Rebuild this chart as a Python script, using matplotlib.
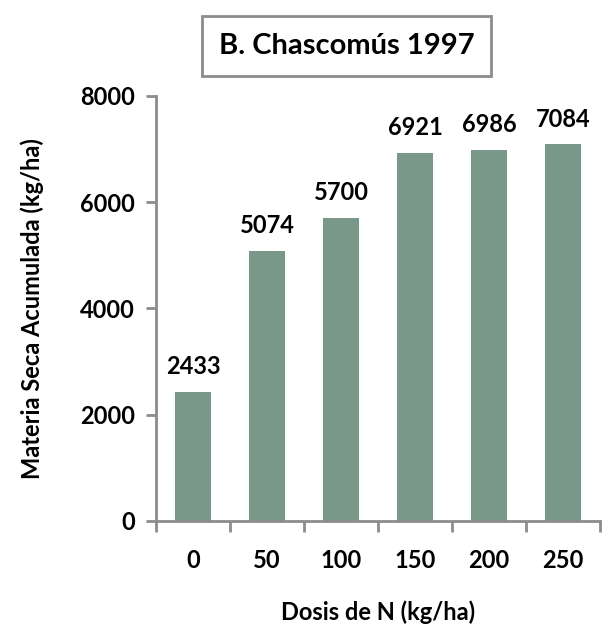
import numpy as np
import matplotlib
matplotlib.use('Agg')
import matplotlib.pyplot as plt
from matplotlib.ticker import FixedLocator

# datos
dosis = ['0', '50', '100', '150', '200', '250']
materia_seca = [2433, 5074, 5700, 6921, 6986, 7084]
yticks = [0, 2000, 4000, 6000, 8000]

plt.rcParams['font.family'] = ['Lato', 'DejaVu Sans']
plt.rcParams['font.weight'] = 'bold'

gris = '#8c8c8c'
verde = '#799889'

fig = plt.figure(figsize=(6.02, 6.26), dpi=100)
ax = fig.add_axes([0.259, 0.168, 0.738, 0.679])

x = np.arange(len(dosis))
ax.bar(x, materia_seca, width=0.48, color=verde)

for xi, v in zip(x, materia_seca):
    ax.annotate(str(v), (xi, v), xytext=(0, 10), textcoords='offset points',
                ha='center', va='bottom', fontsize=17, fontweight='bold')

ax.set_xlim(-0.5, len(dosis) - 0.5)
ax.set_ylim(0, 8000)
ax.set_yticks(yticks)
ax.set_xticks(x)
ax.set_xticklabels(dosis)
ax.xaxis.set_minor_locator(FixedLocator(np.arange(-0.5, len(dosis), 1.0)))

for s in ['top', 'right']:
    ax.spines[s].set_visible(False)
for s in ['left', 'bottom']:
    ax.spines[s].set_color(gris)
    ax.spines[s].set_linewidth(2)

ax.tick_params(axis='y', length=7, width=2, color=gris, labelsize=17, pad=8)
ax.tick_params(axis='x', which='major', length=0, labelsize=17, pad=20)
ax.tick_params(axis='x', which='minor', length=8, width=2, color=gris)

ax.set_ylabel('Materia Seca Acumulada (kg/ha)', fontsize=17, fontweight='bold', labelpad=26)
ax.set_xlabel('Dosis de N (kg/ha)', fontsize=17, fontweight='bold', labelpad=21)

fig.text(0.576, 0.927, 'B. Chascomús 1997', ha='center', va='center',
         fontsize=21, fontweight='bold',
         bbox=dict(boxstyle='square,pad=0.58', facecolor='white', edgecolor=gris, linewidth=2))

fig.savefig('out.png', dpi=100)
